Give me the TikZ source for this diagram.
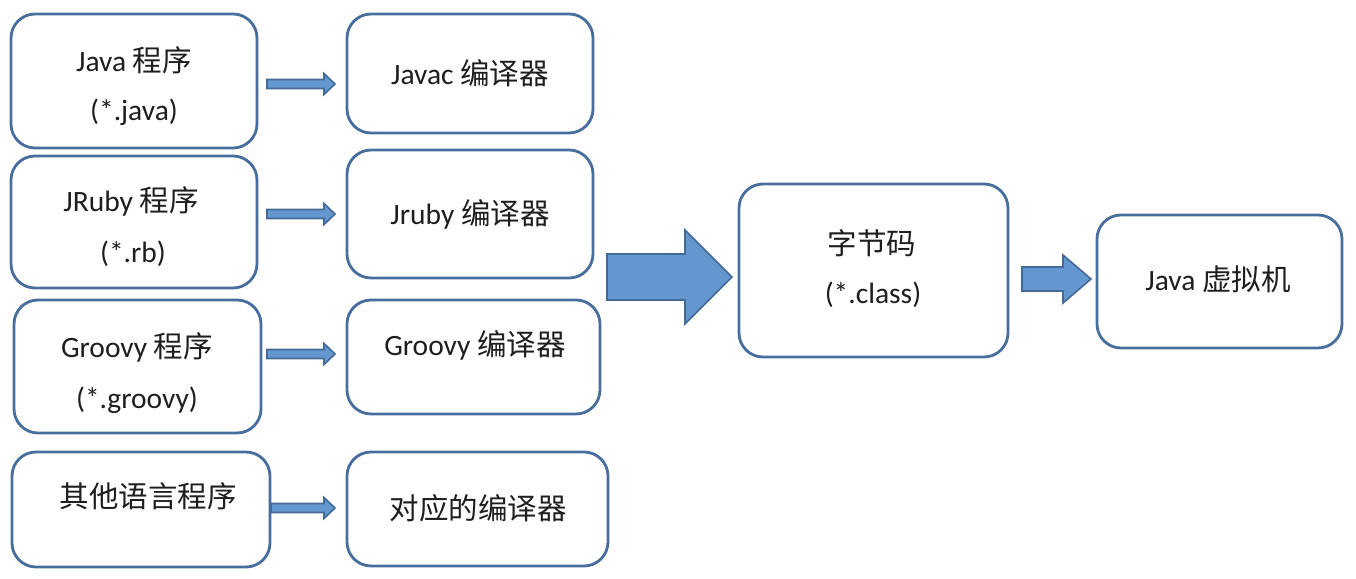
\documentclass[tikz,border=0pt]{standalone}
\usepackage{fontspec}
\setmainfont{Carlito}
\newfontfamily\cjk{Noto Sans CJK SC}
\definecolor{boxline}{RGB}{72,110,158}
\definecolor{arrfill}{RGB}{100,150,207}
\definecolor{arrline}{RGB}{68,106,152}
\definecolor{txt}{RGB}{30,30,30}
\newcommand\blockarrow[6]{%
  \draw[barrow] (#1,{#4-#5}) -- (#2,{#4-#5}) -- (#2,{#4-#6}) -- (#3,#4)
    -- (#2,{#4+#6}) -- (#2,{#4+#5}) -- (#1,{#4+#5}) -- cycle;}
\begin{document}
\begin{tikzpicture}[x=1pt,y=-1pt,
  box/.style={draw=boxline,line width=2.8pt,rounded corners=24pt,fill=white,inner sep=0pt,outer sep=0pt},
  lbl/.style={text=txt,font=\fontsize{29.5}{33}\selectfont,inner sep=0pt,anchor=center},
  barrow/.style={fill=arrfill,draw=arrline,line width=1.6pt,line join=miter}]
\useasboundingbox (0,0) rectangle (1356,578);
% boxes
\node[box,minimum width=246pt,minimum height=134pt] (java) at (134,81) {};
\node[box,minimum width=246pt,minimum height=119pt] (javac) at (470,73.5) {};
\node[box,minimum width=246pt,minimum height=132pt] (jruby) at (134,222) {};
\node[box,minimum width=246pt,minimum height=128pt] (jrubyc) at (470,214) {};
\node[box,minimum width=247pt,minimum height=133pt] (groovy) at (137.5,366.5) {};
\node[box,minimum width=253pt,minimum height=114pt] (groovyc) at (473.5,357) {};
\node[box,minimum width=258pt,minimum height=115pt] (other) at (141,509.5) {};
\node[box,minimum width=261pt,minimum height=114pt] (otherc) at (477.5,509) {};
\node[box,minimum width=269pt,minimum height=173pt] (class) at (873.5,270.5) {};
\node[box,minimum width=245pt,minimum height=133pt] (jvm) at (1219.5,281.5) {};
% labels
\node[lbl] (t1) at (134,60) {Java {\cjk 程序}};
\node[lbl] (t1b) at (134,112) {(*.java)};
\node[lbl] (t2) at (470,73) {Javac {\cjk 编译器}};
\node[lbl] (t3) at (131,201) {JRuby {\cjk 程序}};
\node[lbl] (t3b) at (133,254) {(*.rb)};
\node[lbl] (t4) at (470,214) {Jruby {\cjk 编译器}};
\node[lbl] (t5) at (137,347) {Groovy {\cjk 程序}};
\node[lbl] (t5b) at (137,400) {(*.groovy)};
\node[lbl] (t6) at (475,345) {Groovy {\cjk 编译器}};
\node[lbl] (t7) at (148,496) {\cjk 其他语言程序};
\node[lbl] (t8) at (478,508) {\cjk 对应的编译器};
\node[lbl] (t9) at (872,243) {\cjk 字节码};
\node[lbl] (t9b) at (873,295) {(*.class)};
\node[lbl] (t10) at (1218,279) {Java {\cjk 虚拟机}};
% arrows
\blockarrow{267}{324}{335}{84}{4.5}{10.5}
\blockarrow{267}{324}{335}{214}{4.5}{10.5}
\blockarrow{267}{324}{335}{354}{4.5}{10.5}
\blockarrow{271}{324}{335}{508}{4.5}{10.5}
\blockarrow{607}{685}{732}{277}{23}{47}
\blockarrow{1022}{1063}{1091}{279}{12}{24}
\end{tikzpicture}
\end{document}
